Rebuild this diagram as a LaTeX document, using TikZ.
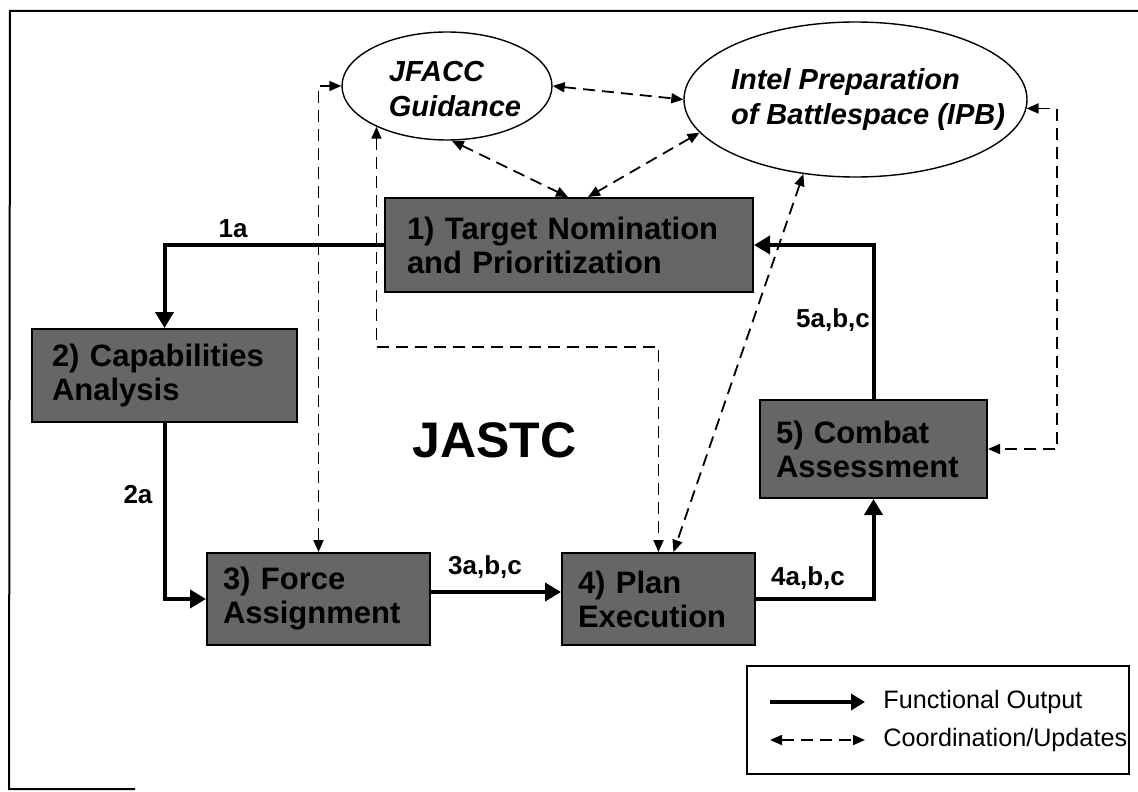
\documentclass[tikz,border=0pt]{standalone}
\usepackage{fontspec}
\setmainfont{Liberation Sans}
\usetikzlibrary{arrows.meta,shapes.geometric,calc}
\begin{document}
\begin{tikzpicture}[x=0.5pt,y=-0.5pt,
  box/.style={draw=black, line width=1pt, fill=black!60, rectangle, inner xsep=8pt, inner ysep=0pt, align=left, font=\bfseries\fontsize{15.5}{17}\selectfont, text=black},
  oval/.style={draw=black, line width=0.7pt, ellipse, inner sep=0pt},
  ovtext/.style={align=left, inner sep=0pt, font=\bfseries\itshape\fontsize{14.5}{17.5}\selectfont},
  func/.style={line width=2pt, -{Triangle[length=8pt,width=9pt]}},
  coord/.style={line width=0.9pt, dash pattern=on 6pt off 3.5pt, {Triangle[length=6pt,width=5pt]}-{Triangle[length=6pt,width=5pt]}},
  lab/.style={inner sep=0pt, font=\bfseries\fontsize{13}{15}\selectfont},
  legtext/.style={anchor=west, inner sep=0pt, font=\fontsize{12.6}{14}\selectfont},
]
\useasboundingbox (0,0) rectangle (1138,791);
% frame
\draw[line width=1pt] (135,789) -- (9,789) -- (10,11) -- (1138,11);

% ellipses
\node[oval, minimum width=105pt, minimum height=54pt] (jf) at (447,86) {};
\node[ovtext] (jft) at (455,89) {JFACC\\Guidance};
\node[oval, minimum width=171.5pt, minimum height=77.5pt] (ipb) at (855.5,99.5) {};
\node[ovtext] (ipbt) at (868,100) {Intel Preparation\\of Battlespace (IPB)};

% boxes
\node[box, inner xsep=11pt, text width=162pt, minimum height=47pt] (b1) at (569,245) {1) Target Nomination\\and Prioritization};
\node[box, inner xsep=10pt, text width=112.5pt, minimum height=46.5pt] (b2) at (164.5,375.5) {2) Capabilities\\Analysis};
\node[box, text width=95.5pt, minimum height=46pt] (b3) at (318.5,599) {3) Force\\Assignment};
\node[box, text width=80.5pt, minimum height=46pt] (b4) at (658.5,599) {4) Plan\\Execution};
\node[box, text width=97.5pt, minimum height=49pt] (b5) at (873.5,449) {5) Combat\\Assessment};

\node[inner sep=0pt, font=\bfseries\fontsize{25}{30}\selectfont] (jastc) at (494.5,440) {JASTC};

% functional outputs
\draw[func] (b1.west) -| (b2.north);
\draw[func] (b2.south) |- (b3.west);
\draw[func] ([yshift=3.5pt]b3.east) -- ([yshift=3.5pt]b4.west);
\draw[func] (b4.east) -| (b5.south);
\draw[func] (b5.north) |- (b1.east);

\node[lab] (l1) at (233,229) {1a};
\node[lab] (l2) at (138,495) {2a};
\node[lab] (l3) at (485,567) {3a,b,c};
\node[lab] (l4) at (808,578) {4a,b,c};
\node[lab] (l5) at (833,320) {5a,b,c};

% coordination
\draw[coord] (jf.east) -- (ipb.west);
\draw[coord] (jf.275) -- ([xshift=-0.5pt]b1.north);
\draw[coord] (ipb.192) -- ([xshift=9.5pt]b1.north);
\draw[coord] (b3.north) |- (jf.west);
\coordinate (c1) at (0,347);
\draw[coord] (jf.210) -- (jf.210 |- c1) -| (b4.north);
\draw[coord] (ipb.235) -- ([xshift=7.5pt]b4.north);
\coordinate (c2) at (1057,0);
\draw[coord] (ipb.357) -- (ipb.357 -| c2) |- (b5.east);

% legend
\node[draw, line width=0.7pt, minimum width=191pt, minimum height=54pt, inner sep=0pt] (leg) at (938,720) {};
\coordinate (fa) at (770,702);
\coordinate (fb) at (865,702);
\draw[line width=2pt, -{Triangle[length=7pt,width=8pt]}] (fa) -- (fb);
\node[legtext] (lt1) at (883,702) {Functional Output};
\coordinate (ca) at (770,740);
\coordinate (cb) at (865,740);
\draw[coord] (ca) -- (cb);
\node[legtext] (lt2) at (883,740) {Coordination/Updates};
\end{tikzpicture}
\end{document}
